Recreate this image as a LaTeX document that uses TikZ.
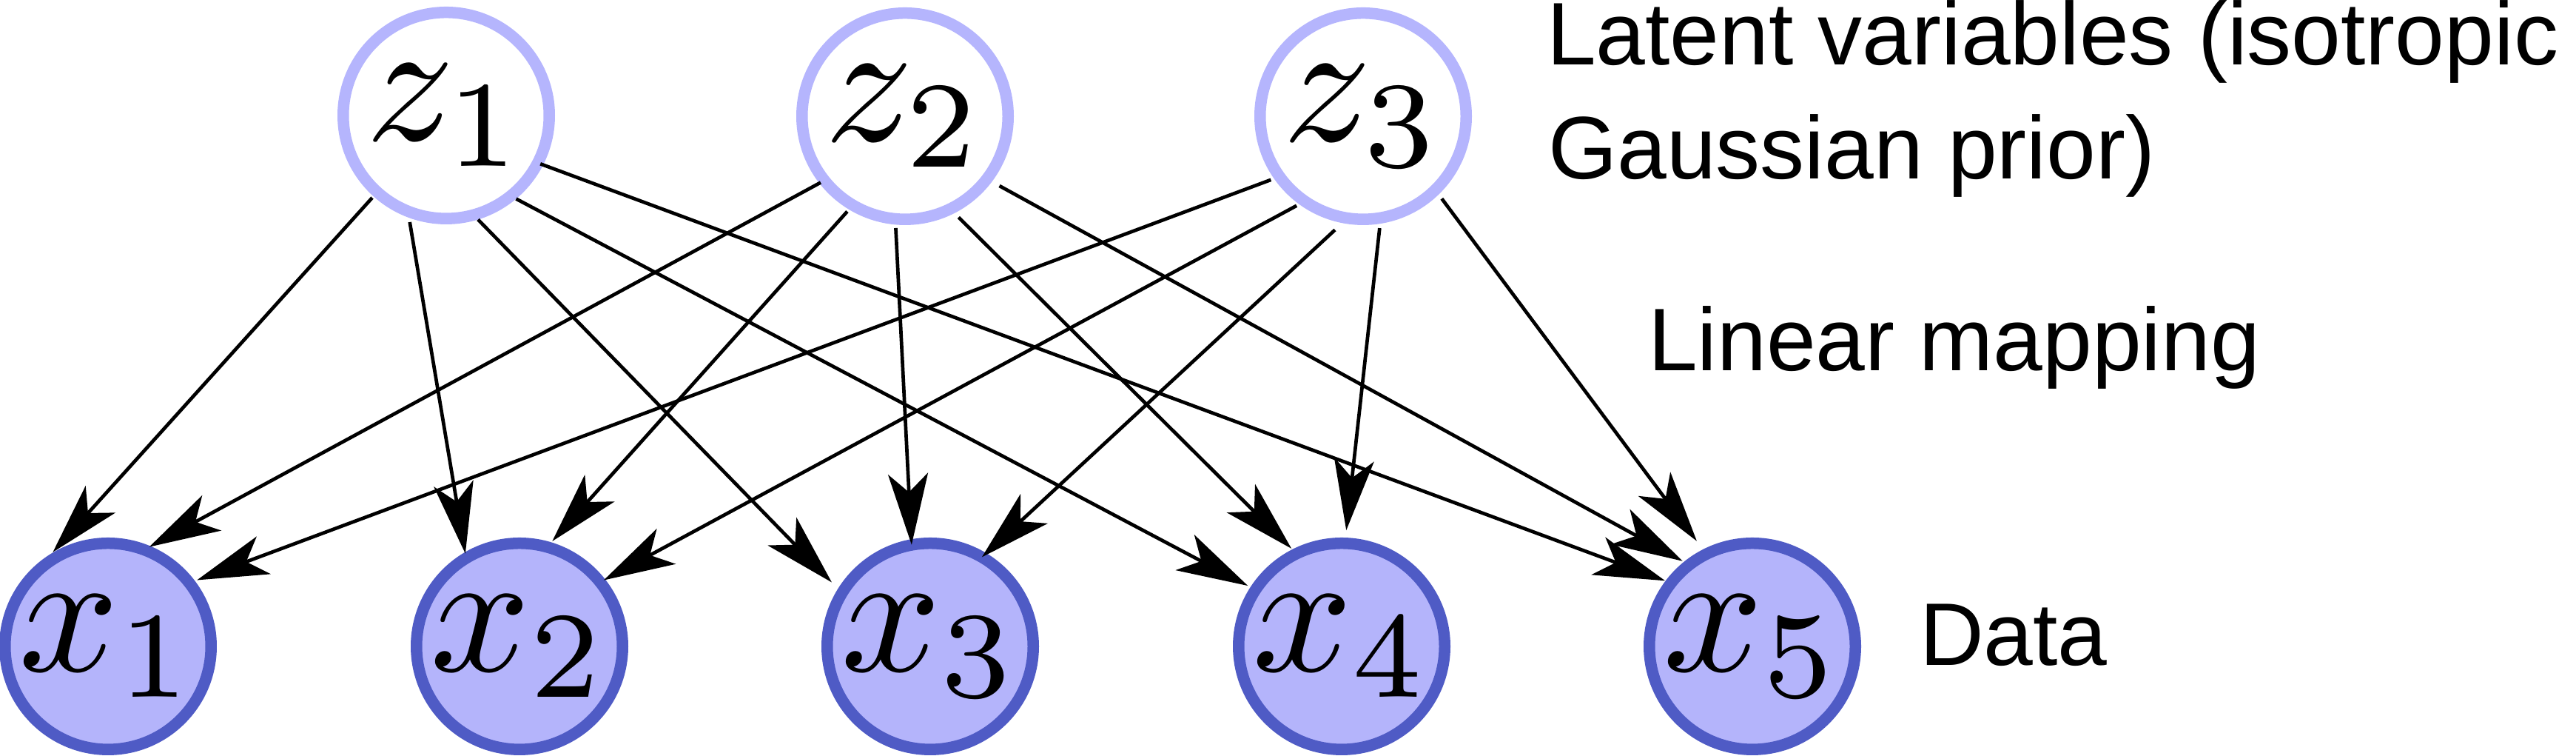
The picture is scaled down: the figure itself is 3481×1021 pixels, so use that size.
\documentclass[tikz,border=0pt]{standalone}
\usepackage{graphicx}
\usepackage{fontspec}
\newfontfamily\lblfont{Liberation Sans}
\usetikzlibrary{arrows.meta}
\definecolor{zline}{RGB}{181,181,253}
\definecolor{xfill}{RGB}{180,180,251}
\definecolor{xline}{RGB}{79,91,197}
\newcommand\lnk[6]{\draw[arr, shorten <=#3pt, shorten >=#6pt] (#1.#2) -- (#4.#5);}
\newcommand\nodemath[1]{\scalebox{2.37}{$#1$}}
\begin{document}
\begin{tikzpicture}[x=0.1pt,y=-0.1pt,
  zn/.style={circle, draw=zline, fill=white, line width=1.55pt, minimum size=27.85pt, inner sep=0pt},
  xn/.style={circle, draw=xline, fill=xfill, line width=1.55pt, minimum size=27.85pt, inner sep=0pt},
  arr/.style={-{Stealth[length=9.6pt,width=5.4pt,inset=2.5pt]}, line width=0.47pt, black},
  lbl/.style={font=\lblfont\fontsize{12}{15.4}\selectfont, anchor=base west, inner sep=0pt}]
\useasboundingbox (0,0) rectangle (3481,1021);
\node[zn] (z1) at (603,156) {\nodemath{z_1}};
\node[zn] (z2) at (1223,157) {\nodemath{z_2}};
\node[zn] (z3) at (1842,157) {\nodemath{z_3}};
\node[xn] (x1) at (146,873) {\nodemath{x_1}};
\node[xn] (x2) at (702,873) {\nodemath{x_2}};
\node[xn] (x3) at (1257,873) {\nodemath{x_3}};
\node[xn] (x4) at (1813,873) {\nodemath{x_4}};
\node[xn] (x5) at (2368,873) {\nodemath{x_5}};
\lnk{z1}{228.5}{0.25}{x1}{121.4}{0.17}
\lnk{z1}{250.5}{0.6}{x2}{120.8}{-0.2}
\lnk{z1}{287.4}{0}{x3}{148.7}{1.2}
\lnk{z1}{310.9}{0}{x4}{147.3}{0.4}
\lnk{z1}{333.8}{-0.4}{x5}{143.6}{0.06}
\lnk{z2}{218.8}{-0.2}{x1}{67.2}{-0.2}
\lnk{z2}{239.7}{0.36}{x2}{73.5}{0.2}
\lnk{z2}{265.1}{0.46}{x3}{100.8}{-0.75}
\lnk{z2}{297.2}{0.8}{x4}{117.4}{0.16}
\lnk{z2}{323.2}{1.16}{x5}{129.8}{0.2}
\lnk{z3}{215.1}{0.45}{x1}{37.1}{0.3}
\lnk{z3}{234.4}{0.4}{x2}{38.8}{-0.23}
\lnk{z3}{259.6}{1.36}{x3}{59.5}{-0.8}
\lnk{z3}{279.0}{0.6}{x4}{88.5}{1.0}
\lnk{z3}{314.0}{0.7}{x5}{117.2}{1.4}
\node[lbl] (lat1) at (2088,88) {Latent variables (isotropic};
\node[lbl] (lat2) at (2090,242) {Gaussian prior)};
\node[lbl] (lin) at (2225,501) {Linear mapping};
\node[lbl] (dat) at (2592,899) {Data};
\end{tikzpicture}
\end{document}
